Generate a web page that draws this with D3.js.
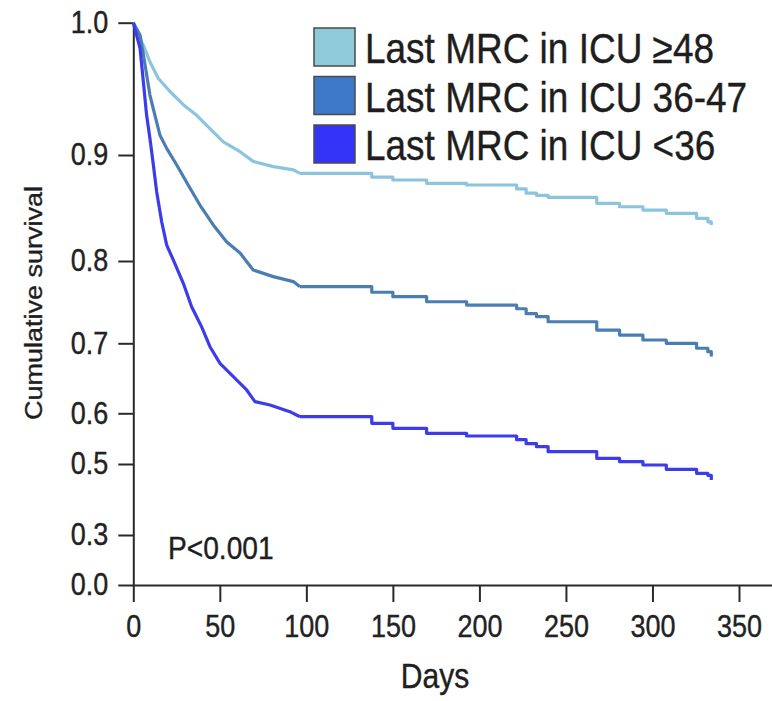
<!DOCTYPE html>
<html>
<head>
<meta charset="utf-8">
<script src="https://cdn.jsdelivr.net/npm/d3@7"></script>
<style>
  body { margin: 0; background: #fff; }
  svg { display: block; font-family: "Liberation Sans", Arial, sans-serif; }
  .axis path, .axis line { stroke: #2a2a2a; stroke-width: 2; }
  .axis text { fill: #222; font-size: 31px; stroke: #222; stroke-width: 0.4; }
  .label { fill: #1e1e1e; stroke: #1e1e1e; stroke-width: 0.4; }
</style>
</head>
<body>
<script>
// legend groups
const groups = ["Last MRC in ICU \u226548", "Last MRC in ICU 36-47", "Last MRC in ICU <36"]
const boxColors = ["#8ecad8", "#3e78c8", "#3434f8"]
const lineColors = ["#8cc4de", "#4a7eb2", "#3c3ceb"]

// axis ticks
const xTicks = [0, 50, 100, 150, 200, 250, 300, 350]
const yTicks = [0, 0.3, 0.5, 0.6, 0.7, 0.8, 0.9, 1.0]

// survival steps [day, cumulative survival]
const survHigh = [[0,1.0],[3,0.99],[5.8,0.983],[9.6,0.9705],[14.4,0.958],[21.2,0.948],[28.9,0.938],
  [36.6,0.930],[44.3,0.920],[52,0.910],[61.7,0.9025],[69.3,0.894],[80.9,0.889],[92.5,0.886],
  [96.3,0.8827],[137.8,0.8791],[150,0.8764],[169.5,0.8733],[192.6,0.8717],[221.5,0.868],[227,0.864],
  [233,0.862],[239.7,0.8601],[267.8,0.8544],[281,0.8512],[294.5,0.848],[308,0.845],[325.5,0.8403],
  [332,0.837],[334,0.834]]
const survMid = [[0,1.0],[3.9,0.9907],[6.8,0.968],[9.6,0.9453],[12.5,0.930],[15.4,0.915],[19.3,0.905],
  [25.1,0.8906],[32.8,0.8686],[38.5,0.8528],[46.2,0.834],[54,0.818],[61.7,0.8075],[69.3,0.789],
  [80.9,0.781],[92.5,0.775],[96.3,0.7688],[137.8,0.762],[150,0.7566],[169.5,0.7505],[192.6,0.7465],
  [221.5,0.742],[227,0.736],[233,0.7323],[239.7,0.7262],[267.8,0.7161],[281,0.71],[294.5,0.704],
  [308,0.700],[325.5,0.6929],[332,0.688],[334,0.681]]
const survLow = [[0,1.0],[3.9,0.9806],[5.8,0.9554],[7.7,0.930],[9.6,0.9126],[11.6,0.8906],[13.5,0.8654],
  [16.4,0.837],[19.3,0.815],[23.1,0.801],[28.9,0.7729],[33.7,0.7445],[39.5,0.72],[44.3,0.6951],
  [50.1,0.6714],[57.8,0.6523],[65.5,0.6333],[70.3,0.6166],[79,0.6119],[90.5,0.6023],[96.3,0.5933],
  [137.8,0.5803],[150,0.5704],[169.5,0.5606],[192.6,0.5552],[221.5,0.548],[227,0.54],[233,0.5341],
  [239.7,0.5243],[267.8,0.5112],[281,0.5045],[294.5,0.4972],[308,0.4851],[325.5,0.4738],
  [332,0.468],[334,0.455]]

const series = [survHigh, survMid, survLow]

// early drop is dense small steps, drawn as a jagged line; later part as clear steps
const splitDay = 96.3

const width = 772, height = 701

let x = d3.scaleLinear()
    .domain([0, 370])
    .range([133.3, 773.6])

// the original y axis is stretched near the top, so a piecewise scale on the tick values
let y = d3.scaleLinear()
    .domain(yTicks)
    .range([585, 535, 464, 413.3, 343.3, 261, 155, 22.7])

let svg = d3.select("body").append("svg")
    .attr("width", width)
    .attr("height", height)

// axes
let xAxis = svg.append("g")
    .attr("class", "axis")
    .attr("transform", `translate(0,${y(0)})`)
    .call(d3.axisBottom(x).tickValues(xTicks).tickSize(17).tickPadding(13.5).tickSizeOuter(0))
xAxis.selectAll("text")
    .attr("transform", "scale(0.87,1)")

let yAxis = svg.append("g")
    .attr("class", "axis")
    .attr("transform", `translate(${x(0)},0)`)
    .call(d3.axisLeft(y).tickValues(yTicks).tickFormat(d3.format(".1f")).tickSize(15).tickSizeOuter(0))
yAxis.selectAll("text")
    .attr("x", 0)
    .attr("transform", "translate(-25,0) scale(0.87,1)")

// survival curves
let earlyLine = d3.line()
    .x(d => x(d[0]))
    .y(d => y(d[1]))
    .curve(d3.curveLinear)

let lateLine = d3.line()
    .x(d => x(d[0]))
    .y(d => y(d[1]))
    .curve(d3.curveStepAfter)

let curves = svg.selectAll(".curve")
  .data(series)
  .join("g")
    .attr("class", "curve")
    .attr("fill", "none")
    .attr("stroke", (d,i) => lineColors[i])
    .attr("stroke-width", 3.2)
    .attr("stroke-linejoin", "round")

curves.append("path")
    .attr("d", d => earlyLine(d.filter(p => p[0] <= splitDay)))

curves.append("path")
    .attr("d", d => lateLine(d.filter(p => p[0] >= splitDay)))

// legend
let legend = svg.selectAll(".legend")
  .data(groups)
  .join("g")
    .attr("class", "legend")
    .attr("transform", (d,i) => `translate(314,${28 + i*48.5})`)

legend.append("rect")
    .attr("width", 41)
    .attr("height", 38)
    .attr("fill", (d,i) => boxColors[i])
    .attr("stroke", "#4a4a4a")
    .attr("stroke-width", 1.5)

legend.append("text")
    .attr("class", "label")
    .attr("transform", "translate(51,35) scale(0.86,1)")
    .style("font-size", "43px")
    .text(d => d)

// other labels
svg.append("text")
    .attr("class", "label")
    .attr("transform", "translate(168,559) scale(0.88,1)")
    .style("font-size", "32px")
    .text("P<0.001")

svg.append("text")
    .attr("class", "label")
    .attr("transform", "translate(435,688) scale(0.86,1)")
    .attr("text-anchor", "middle")
    .style("font-size", "35px")
    .text("Days")

svg.append("text")
    .attr("class", "label")
    .attr("transform", "translate(42,303) rotate(-90) scale(1,0.86)")
    .attr("text-anchor", "middle")
    .style("font-size", "27px")
    .text("Cumulative survival")
</script>
</body>
</html>
